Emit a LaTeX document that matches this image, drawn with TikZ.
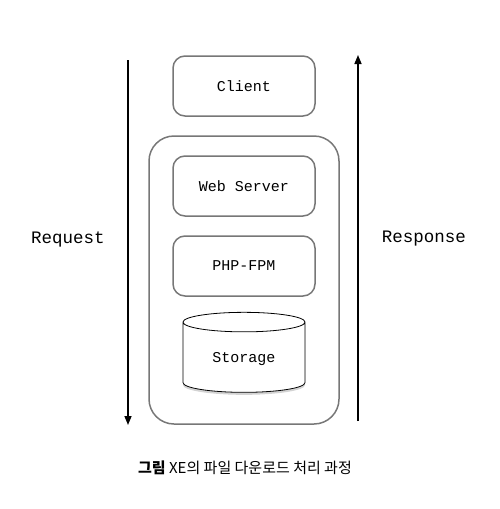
\documentclass[tikz,border=0pt]{standalone}
\usepackage{fontspec}
\setmonofont{Liberation Mono}
\newfontfamily\krfont{Noto Sans CJK KR}
\usetikzlibrary{arrows.meta,shapes.geometric,shadows}
\definecolor{boxgray}{HTML}{777777}
\tikzset{
  box/.style={draw=boxgray, line width=1.5pt, rounded corners=12pt,
    minimum width=142pt, minimum height=60pt, inner sep=0pt,
    font=\ttfamily\fontsize{15}{18}\selectfont},
  flow/.style={line width=1.5pt, -{Triangle[length=9pt,width=7pt]}},
  side/.style={font=\ttfamily\fontsize{17.5}{20}\selectfont}
}
\begin{document}
\begin{tikzpicture}[x=1pt,y=-1pt]
    \useasboundingbox (0,0) rectangle (500,509);

    % Внешний контейнер сервера
    \node[draw=boxgray, line width=1.5pt, rounded corners=25pt,
          minimum width=190pt, minimum height=288pt] (server) at (244,280) {};

    % Блоки
    \node[box] (client) at (244,86)  {Client};
    \node[box] (web)    at (244,186) {Web Server};
    \node[box] (php)    at (244,266) {PHP-FPM};

    % Хранилище
    \node[cylinder, shape border rotate=90, aspect=0.28, draw, line width=0.8pt,
          fill=white, minimum width=122pt, minimum height=80pt,
          drop shadow={shadow xshift=0pt, shadow yshift=-2.5pt, opacity=0.35},
          font=\ttfamily\fontsize{15}{18}\selectfont] (storage) at (244,359) {Storage};

    % Стрелки запроса и ответа
    \coordinate (reqtop) at (128,60);
    \coordinate (reqbot) at (128,425);
    \coordinate (restop) at (358,55);
    \coordinate (resbot) at (358,421);
    \draw[flow] (reqtop) -- (reqbot);
    \draw[flow] (resbot) -- (restop);

    % Подписи
    \node[side] (req) at (68,239)  {Request};
    \node[side] (res) at (424,239) {Response};

    % Подпись рисунка
    \node[font=\krfont\fontsize{15}{18}\selectfont] (cap) at (245,468)
        {\textbf{그림} XE의 파일 다운로드 처리 과정};

\end{tikzpicture}
\end{document}
